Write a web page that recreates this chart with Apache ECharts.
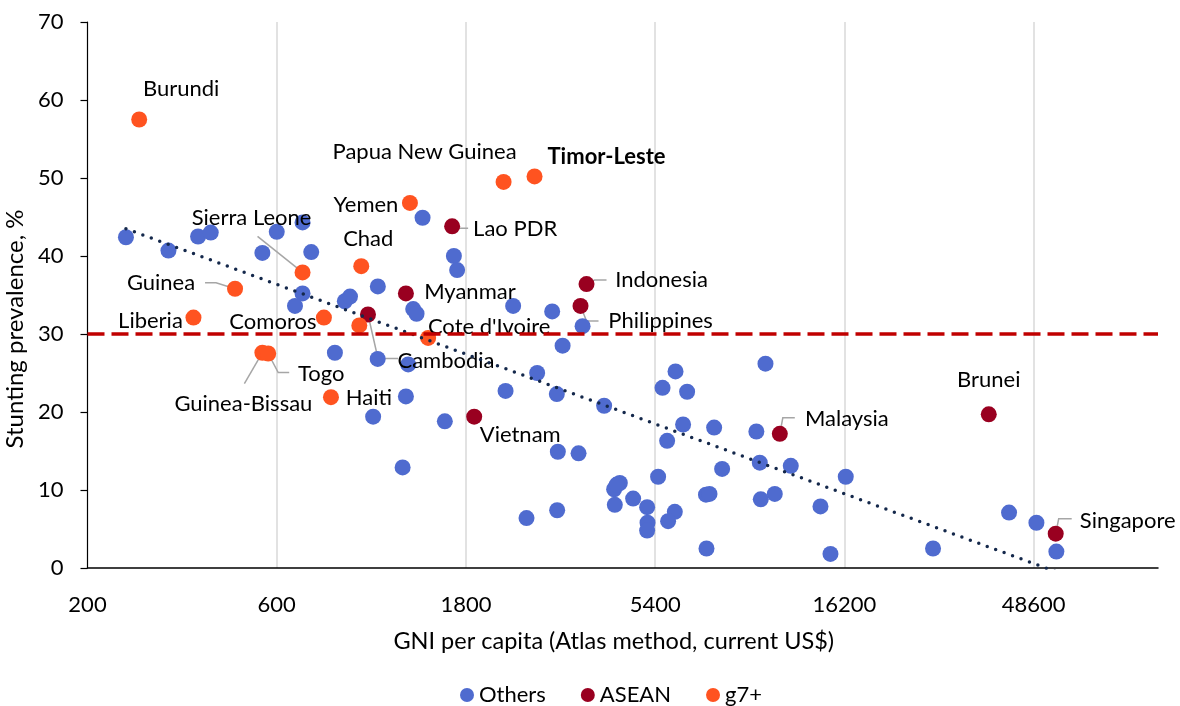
<!DOCTYPE html>
<html><head><meta charset="utf-8">
<script src="https://cdn.jsdelivr.net/npm/echarts@6/dist/echarts.min.js"></script>
<style>html,body{margin:0;padding:0;background:#fff}#chart{width:1180px;height:706px}</style>
</head><body><div id="chart"></div>
<script>
// ---- data ----
const xTickLabels = ['200', '600', '1800', '5400', '16200', '48600'];
const xMinGNI = 200, xMaxGNI = 100000, xBase = 3;

const othersGNI = [250,320,380,409,552,600,697,733,697,667,891,918,1079,841,1078,1050,1270,1246,1325,1351,1287,1399,1678,1710,1592,2367,2969,3542,3154,2721,2265,3050,4014,3068,3460,3056,2558,6075,5634,6498,10241,6348,7602,9714,5787,9908,11862,7962,5491,16322,4254,4397,4320,4750,5152,4271,7250,7400,9966,10810,6050,5819,5164,5152,7272,14094,14936,27090,42120,49370,55430];
const othersStunting = [42.4,40.7,42.5,43.0,40.4,43.1,44.3,40.5,35.2,33.6,34.2,34.8,36.1,27.6,26.8,19.4,22.0,12.9,33.2,32.6,26.1,44.9,40.0,38.2,18.8,33.6,32.9,31.0,28.5,25.0,22.7,22.3,20.8,14.9,14.7,7.4,6.4,25.2,23.1,22.6,26.2,18.4,18.0,17.5,16.3,13.5,13.1,12.7,11.7,11.7,10.1,10.9,10.7,8.9,7.8,8.1,9.4,9.5,8.8,9.5,7.2,6.0,5.8,4.8,2.5,7.9,1.8,2.5,7.1,5.8,2.1];

const aseanNames = ['Lao PDR','Myanmar','Cambodia','Indonesia','Philippines','Vietnam','Malaysia','Brunei','Singapore'];
const aseanGNI = [1661,1270,1019,3624,3500,1888,11130,37440,55220];
const aseanStunting = [43.8,35.2,32.5,36.4,33.6,19.4,17.2,19.7,4.4];

const g7Names = ['Burundi','Guinea','Liberia','Sierra Leone','Chad','Comoros','','Guinea-Bissau','Togo','Haiti',"Cote d'Ivoire",'Yemen','Papua New Guinea','Timor-Leste'];
const g7GNI = [270,471,370,697,980,789,969,552,571,822,1445,1300,2239,2680];
const g7Stunting = [57.5,35.8,32.1,37.9,38.7,32.1,31.1,27.6,27.5,21.9,29.5,46.8,49.5,50.2];

const trendGNI = [250, 55430];
const trendStunting = [43.5, -0.5];
const thresholdStunting = 30;

// ---- layout: label centre offsets from the point (px) ----
const labelOffsets = {
  'Burundi':[42,-31], 'Papua New Guinea':[-79,-30], 'Timor-Leste':[72,-20],
  'Yemen':[-44,2], 'Lao PDR':[63,3], 'Sierra Leone':[-51,-54], 'Chad':[7,-27],
  'Guinea':[-74,-6], 'Indonesia':[75,-4], 'Myanmar':[64,-2], 'Liberia':[-43,3],
  'Comoros':[-51,4], "Cote d'Ivoire":[61,-11], 'Philippines':[80,15],
  'Cambodia':[78,46], 'Togo':[53,20], 'Guinea-Bissau':[-19,51], 'Haiti':[38,1],
  'Vietnam':[46,18], 'Malaysia':[67,-15], 'Brunei':[0,-34], 'Singapore':[72,-13]
};
// leader-line shapes, as pixel offsets from the point
const leaderShapes = {
  'Sierra Leone': [[-45,-36],[0,0]],
  'Guinea': [[-30,-6],[-19,-6],[0,0]],
  'Lao PDR': [[0,0],[4,2],[16,2]],
  'Indonesia': [[0,0],[8,-4],[20,-4]],
  'Philippines': [[0,0],[6,15],[18,15]],
  'Cambodia': [[0,0],[10,44],[30,44]],
  'Togo': [[0,0],[10,19],[21,19]],
  'Guinea-Bissau': [[0,0],[-18,31]],
  'Malaysia': [[0,0],[3,-16],[15,-16]],
  'Singapore': [[0,0],[3,-15],[16,-15]]
};

const FONT = "Lato, 'Open Sans', sans-serif";
const SYM = 16;
const tx = v => Math.log(v / xMinGNI) / Math.log(xBase);

function items(names, gni, st) {
  return names.map((n, i) => {
    const item = { name: n, value: [tx(gni[i]), st[i]] };
    const o = labelOffsets[n];
    if (o) {
      item.label = { show: true, position: [SYM/2 + o[0], SYM/2 + o[1]], align: 'center', verticalAlign: 'middle',
        fontWeight: n === 'Timor-Leste' ? 'bold' : 'normal' };
    } else {
      item.label = { show: false };
    }
    return item;
  });
}

// leader data: anchor points come from the data arrays
const leaderData = [];
[[aseanNames, aseanGNI, aseanStunting], [g7Names, g7GNI, g7Stunting]].forEach(([names, gni, st]) => {
  names.forEach((n, i) => { if (leaderShapes[n]) leaderData.push({ name: n, value: [tx(gni[i]), st[i]] }); });
});

const labelCommon = { show: false, formatter: '{b}', color: '#000', fontSize: 22, fontFamily: FONT };

const chart = echarts.init(document.getElementById('chart'), null, { renderer: 'canvas' });
chart.setOption({
  animation: false,
  backgroundColor: '#fff',
  textStyle: { fontFamily: FONT },
  grid: { left: 87.5, right: 22, top: 22, bottom: 138, containLabel: false, outerBoundsMode: 'none' },
  legend: {
    top: 684, left: 460, padding: 0, icon: 'circle', itemWidth: 14, itemHeight: 14, itemGap: 35,
    data: ['Others', 'ASEAN', 'g7+'],
    textStyle: { fontSize: 22, color: '#000', fontFamily: FONT }
  },
  xAxis: {
    type: 'value', min: 0, max: tx(xMaxGNI), interval: 1,
    name: 'GNI per capita (Atlas method, current US$)', nameLocation: 'middle', nameGap: 61,
    nameTextStyle: { fontSize: 23.5, color: '#000', fontFamily: FONT, padding: [0, 18, 0, 0] },
    axisLine: { show: true, onZero: false, lineStyle: { color: '#000', width: 1.5 } },
    axisTick: { show: false },
    splitLine: { show: true, showMinLine: false, showMaxLine: false, lineStyle: { color: '#d9d9d9', width: 1.5 } },
    axisLabel: {
      margin: 26, fontSize: 22, color: '#000', fontFamily: FONT, showMaxLabel: false,
      formatter: v => { const i = Math.round(v); return Math.abs(v - i) < 1e-6 && xTickLabels[i] ? xTickLabels[i] : ''; }
    }
  },
  yAxis: {
    type: 'value', min: 0, max: 70, interval: 10,
    name: 'Stunting prevalence, %', nameLocation: 'middle', nameGap: 47,
    nameTextStyle: { fontSize: 24, color: '#000', fontFamily: FONT, padding: [0, 68, 0, 0] },
    axisLine: { show: true, lineStyle: { color: '#000', width: 1.2 } },
    axisTick: { show: true, length: 7, lineStyle: { color: '#000', width: 1.2 } },
    splitLine: { show: false },
    axisLabel: { margin: 24, fontSize: 22, color: '#000', fontFamily: FONT }
  },
  series: [
    {
      name: 'Leaders', type: 'custom', z: 1, silent: true,
      data: leaderData,
      renderItem: (params, api) => {
        const c = api.coord([api.value(0), api.value(1)]);
        const shape = leaderShapes[leaderData[params.dataIndex].name];
        return {
          type: 'polyline',
          shape: { points: shape.map(p => [c[0] + p[0], c[1] + p[1]]) },
          style: { stroke: '#a6a6a6', lineWidth: 1.5, fill: null }
        };
      }
    },
    {
      name: 'Others', type: 'scatter', symbolSize: SYM, z: 2,
      itemStyle: { color: '#4F6BCF', opacity: 1 },
      data: othersGNI.map((g, i) => [tx(g), othersStunting[i]]),
      markLine: {
        silent: true, symbol: 'none', label: { show: false },
        lineStyle: { color: '#C00000', width: 3.5, type: [17, 7] },
        data: [{ yAxis: thresholdStunting }]
      }
    },
    {
      name: 'ASEAN', type: 'scatter', symbolSize: SYM, z: 3,
      itemStyle: { color: '#990020', opacity: 1 },
      label: labelCommon,
      data: items(aseanNames, aseanGNI, aseanStunting)
    },
    {
      name: 'g7+', type: 'scatter', symbolSize: SYM, z: 3,
      itemStyle: { color: '#FF5320', opacity: 1 },
      label: labelCommon,
      data: items(g7Names, g7GNI, g7Stunting)
    },
    {
      name: 'Trend', type: 'line', z: 4, symbol: 'none', silent: true, clip: true,
      lineStyle: { color: '#14284B', width: 3.5, type: [0, 9], cap: 'round' },
      data: trendGNI.map((g, i) => [tx(g), trendStunting[i]])
    }
  ]
});
</script>
</body></html>
